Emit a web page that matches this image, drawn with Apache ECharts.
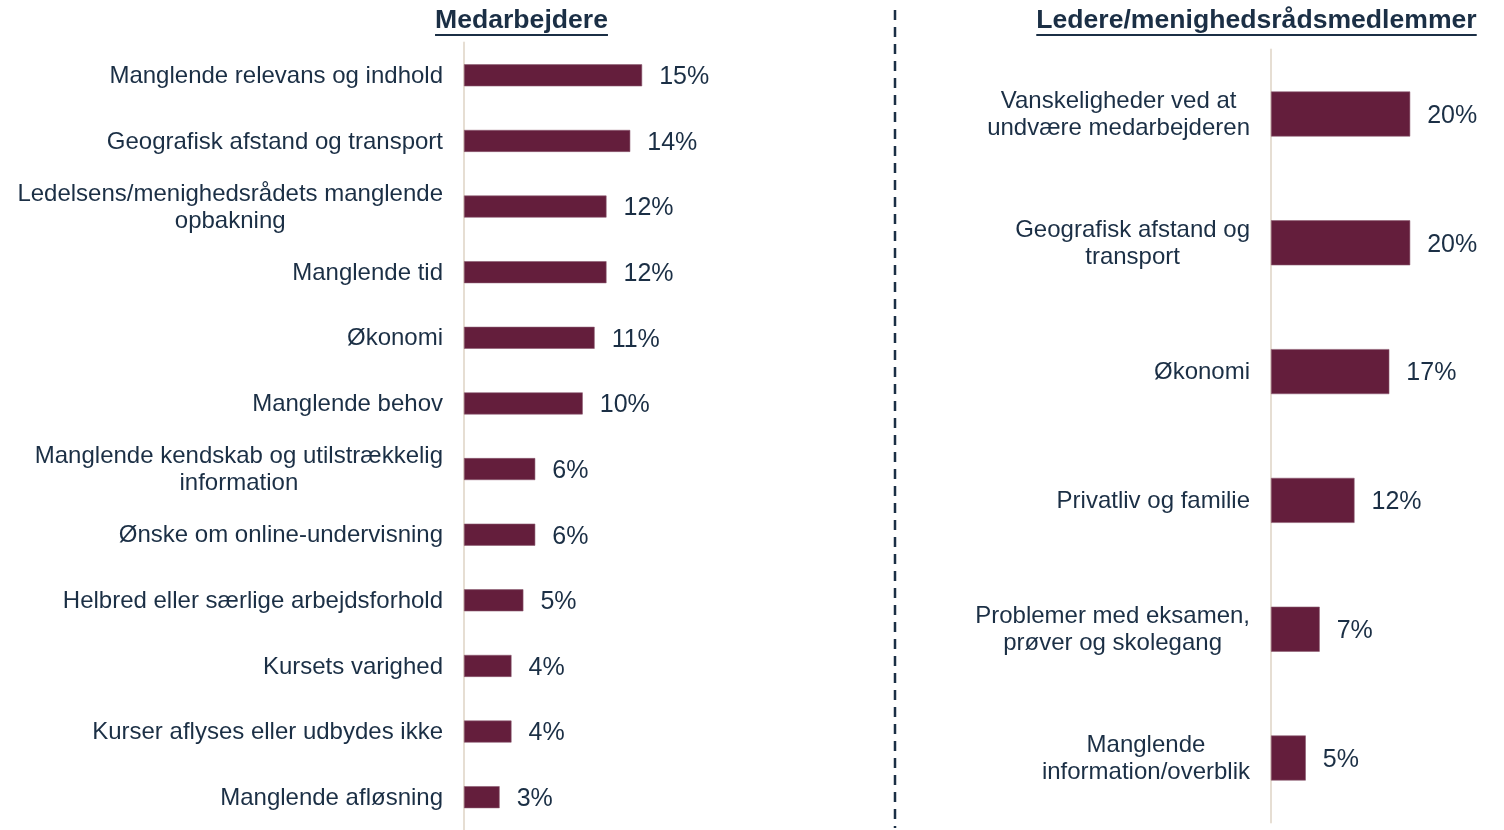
<!DOCTYPE html>
<html>
<head>
<meta charset="utf-8">
<script src="https://cdn.jsdelivr.net/npm/echarts@6/dist/echarts.min.js"></script>
<style>
  html, body { margin: 0; padding: 0; background: #fff; }
  #chart { width: 1504px; height: 830px; }
</style>
</head>
<body>
<div id="chart"></div>
<script>
// venstre diagram: medarbejdere
const staffCategories = [
  "Manglende relevans og indhold",
  "Geografisk afstand og transport",
  "Ledelsens/menighedsrådets manglende\nopbakning",
  "Manglende tid",
  "Økonomi",
  "Manglende behov",
  "Manglende kendskab og utilstrækkelig\ninformation",
  "Ønske om online-undervisning",
  "Helbred eller særlige arbejdsforhold",
  "Kursets varighed",
  "Kurser aflyses eller udbydes ikke",
  "Manglende afløsning"
];
const staffValues = [15, 14, 12, 12, 11, 10, 6, 6, 5, 4, 4, 3];

// højre diagram: ledere/menighedsrådsmedlemmer
const leaderCategories = [
  "Vanskeligheder ved at\nundvære medarbejderen",
  "Geografisk afstand og\ntransport",
  "Økonomi",
  "Privatliv og familie",
  "Problemer med eksamen,\nprøver og skolegang",
  "Manglende\ninformation/overblik"
];
const leaderValues = [20, 20, 17, 12, 7, 5];

const titles = ["Medarbejdere", "Ledere/menighedsrådsmedlemmer"];

const FONT = '"Liberation Sans", Arial, sans-serif';
const TEXT = "#1b2f45";
const BAR = "#641e3c";
const AXIS = "#e6ded3";
const TITLE_FONT = "bold 26.6px " + FONT;

// tekstbredde til understregning af overskrifter
function textWidth(txt, font) {
  const ctx = document.createElement("canvas").getContext("2d");
  ctx.font = font;
  return ctx.measureText(txt).width;
}

function titleGraphic(txt, cx) {
  const w = textWidth(txt, TITLE_FONT);
  return [
    {
      type: "text",
      x: cx,
      y: 21,
      style: {
        text: txt,
        font: TITLE_FONT,
        fill: TEXT,
        align: "center",
        verticalAlign: "middle"
      }
    },
    {
      type: "line",
      shape: { x1: cx - w / 2, y1: 35, x2: cx + w / 2, y2: 35 },
      style: { stroke: TEXT, lineWidth: 2 }
    }
  ];
}

// linjer i flerlinjede etiketter centreres
function labelFormatter(value) {
  return value.split("\n").map(l => "{c|" + l + "}").join("\n");
}

function categoryAxis(idx, cats) {
  return {
    type: "category",
    gridIndex: idx,
    data: cats,
    inverse: true,
    axisTick: { show: false },
    axisLine: { show: true, lineStyle: { color: AXIS, width: 2 } },
    axisLabel: {
      interval: 0,
      margin: 21,
      formatter: labelFormatter,
      rich: {
        c: {
          align: "center",
          fontSize: 24,
          lineHeight: 27,
          color: TEXT,
          fontFamily: FONT,
          padding: [2, 0, 0, 0]
        }
      }
    }
  };
}

function valueAxis(idx, max) {
  return {
    type: "value",
    gridIndex: idx,
    min: 0,
    max: max,
    show: false
  };
}

function barSeries(idx, values, width) {
  return {
    type: "bar",
    xAxisIndex: idx,
    yAxisIndex: idx,
    data: values,
    barWidth: width,
    itemStyle: { color: BAR, borderColor: "#8c5a70", borderWidth: 0.6 },
    label: {
      show: true,
      position: "right",
      distance: 17,
      offset: [0, 2],
      formatter: "{c}%",
      fontSize: 25,
      color: TEXT,
      fontFamily: FONT
    },
    silent: true
  };
}

const myChart = echarts.init(document.getElementById("chart"));
const option = {
  animation: false,
  grid: [
    { left: 464, top: 42.5, width: 190, height: 792 },
    { left: 1271, top: 49.6, width: 174, height: 772.8 }
  ],
  xAxis: [valueAxis(0, 16), valueAxis(1, 25)],
  yAxis: [categoryAxis(0, staffCategories), categoryAxis(1, leaderCategories)],
  series: [barSeries(0, staffValues, 22), barSeries(1, leaderValues, 45)],
  graphic: [
    ...titleGraphic(titles[0], 521.5),
    ...titleGraphic(titles[1], 1256.5),
    {
      type: "line",
      shape: { x1: 895, y1: 10, x2: 895, y2: 828 },
      style: { stroke: TEXT, lineWidth: 2.5, lineDash: [10, 7] }
    }
  ]
};
myChart.setOption(option);
</script>
</body>
</html>
